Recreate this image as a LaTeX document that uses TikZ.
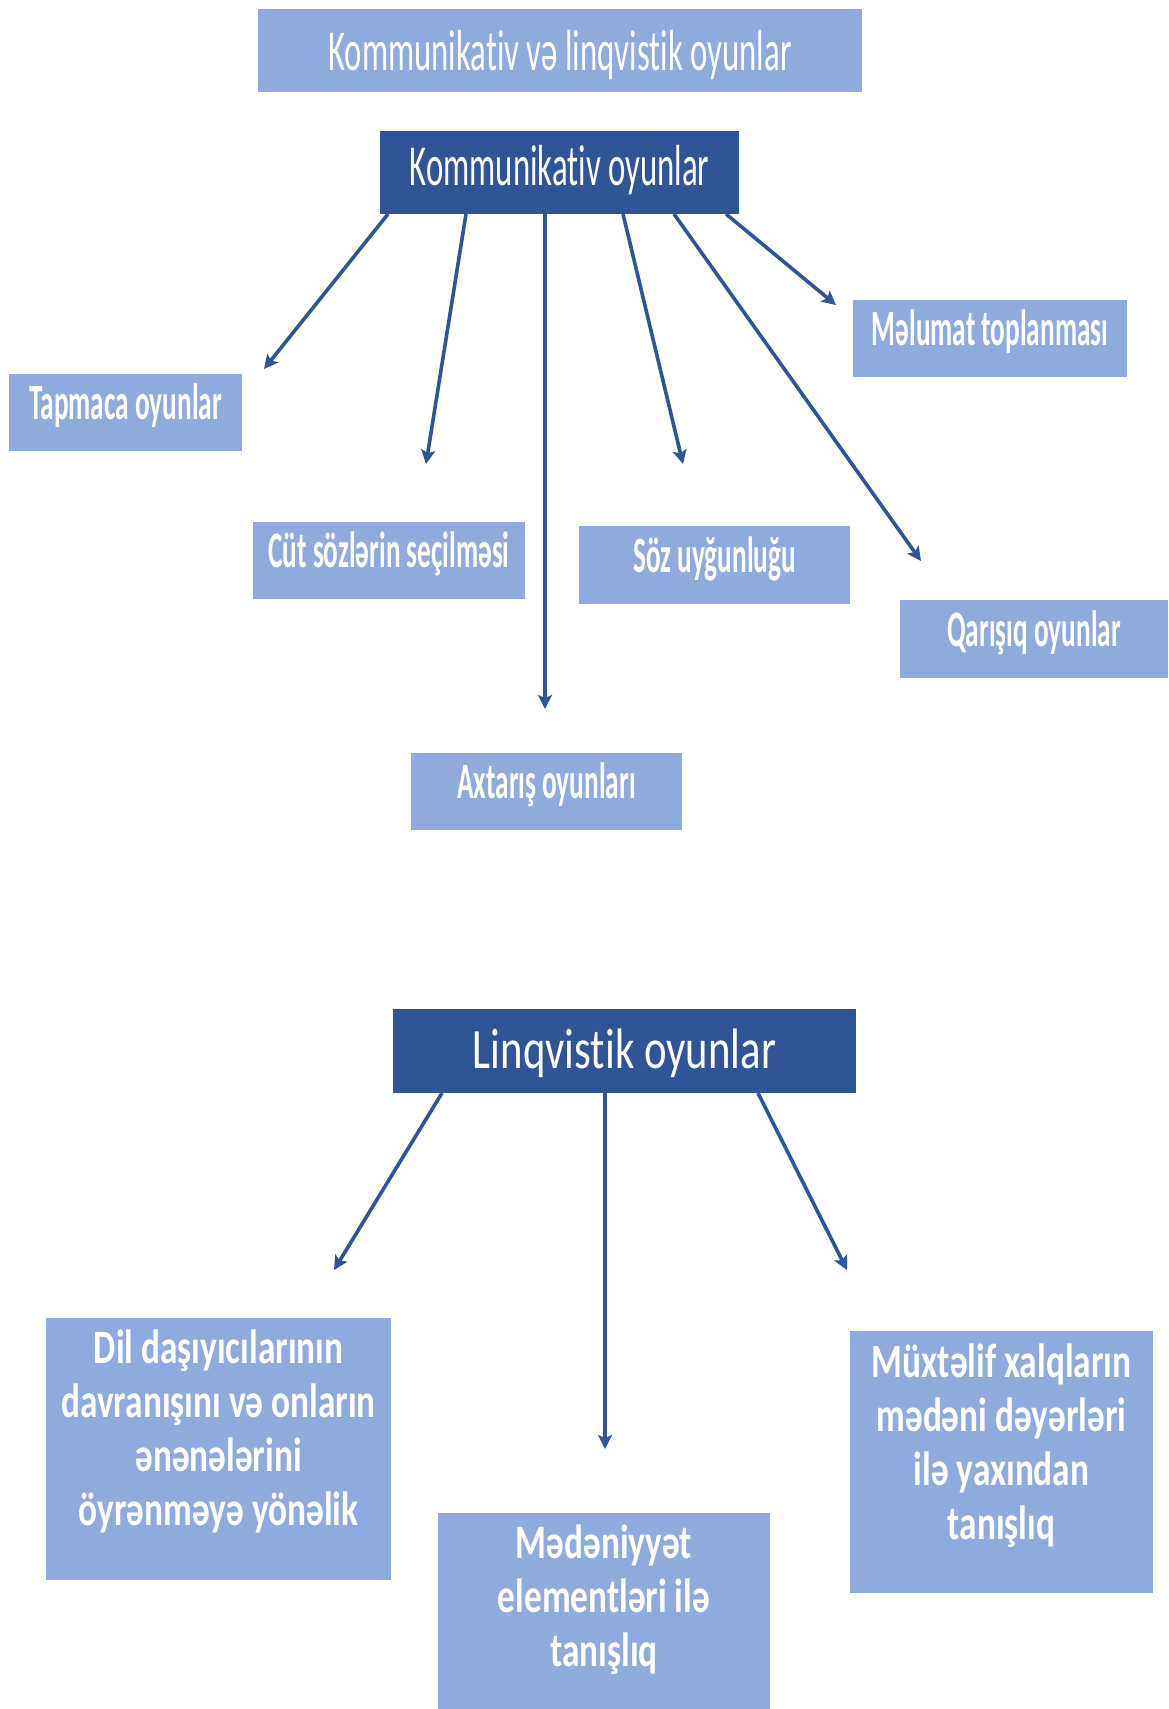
\documentclass[tikz,border=0pt]{standalone}
\usepackage{fontspec}
\setmainfont{Carlito}
\newfontfamily\fta[FakeStretch=0.565,Ligatures=NoCommon]{Carlito}
\newfontfamily\ftb[FakeStretch=0.535,Ligatures=NoCommon]{Carlito}
\newfontfamily\ftc[FakeStretch=0.75,Ligatures=NoCommon]{Carlito}
\newfontfamily\ftd[FakeStretch=0.735,Ligatures=NoCommon]{Carlito}
\usetikzlibrary{arrows.meta}
\definecolor{dblue}{HTML}{2F5597}
\definecolor{lblue}{HTML}{8FAADC}
\begin{document}
\begin{tikzpicture}[x=1pt,y=-1pt,
  lbox/.style={fill=lblue, inner sep=0pt, outer sep=0pt, text=white},
  dbox/.style={fill=dblue, inner sep=0pt, outer sep=0pt, text=white},
  hfont/.style={font={\fta\fontsize{58}{66}\selectfont}, text depth=0pt},
  sfont/.style={font={\ftb\bfseries\fontsize{51}{58}\selectfont}, text height=14pt, text depth=0pt},
  lfont/.style={font={\ftc\fontsize{57}{66}\selectfont}, text height=34pt, text depth=0pt},
  bfont/.style={font={\ftd\bfseries\fontsize{48}{54}\selectfont}},
  btxt/.style={inner sep=0pt, text=white, align=center, anchor=north, bfont},
  conn/.style={draw=dblue, line width=3.6pt, -{Stealth[length=14pt,width=14pt,inset=3pt]}}]
\useasboundingbox (0,0) rectangle (1168,1709);
\clip (0,0) rectangle (1168,1709);
\fill[white] (0,0) rectangle (1168,1709);

% top part
\node[lbox, hfont, text height=39pt, minimum width=604pt, minimum height=83pt] (title) at (560,50.5) {Kommunikativ və linqvistik oyunlar};
\node[dbox, hfont, text height=25pt, minimum width=359pt, minimum height=83pt] (kom) at (559.5,172.5) {Kommunikativ oyunlar};
\node[lbox, sfont, minimum width=233pt, minimum height=77pt] (tap) at (125.5,412.5) {Tapmaca oyunlar};
\node[lbox, sfont, minimum width=272pt, minimum height=77pt] (cut) at (389,560.5) {Cüt sözlərin seçilməsi};
\node[lbox, sfont, minimum width=271pt, minimum height=78pt] (soz) at (714.5,565) {Söz uyğunluğu};
\node[lbox, sfont, minimum width=274pt, minimum height=77pt] (mel) at (990,338.5) {Məlumat toplanması};
\node[lbox, sfont, minimum width=268pt, minimum height=78pt] (qar) at (1034,639) {Qarışıq oyunlar};
\node[lbox, sfont, minimum width=271pt, minimum height=77pt] (axt) at (546.5,791.5) {Axtarış oyunları};

\coordinate (k1s) at ([xshift=8pt]kom.south west);
\coordinate (k2s) at ([xshift=86pt]kom.south west);
\coordinate (k3s) at ([xshift=165pt]kom.south west);
\coordinate (k4s) at ([xshift=243pt]kom.south west);
\coordinate (k5s) at ([xshift=294pt]kom.south west);
\coordinate (k6s) at ([xshift=346pt]kom.south west);
\coordinate (k1e) at (264,369);
\coordinate (k2e) at (426,464);
\coordinate (k3e) at (545,709);
\coordinate (k4e) at (683,464);
\coordinate (k5e) at (921,561);
\coordinate (k6e) at (836,305);
\draw[conn] (k1s) -- (k1e);
\draw[conn] (k2s) -- (k2e);
\draw[conn] (k3s) -- (k3e);
\draw[conn] (k4s) -- (k4e);
\draw[conn] (k5s) -- (k5e);
\draw[conn] (k6s) -- (k6e);

% bottom part
\node[dbox, lfont, minimum width=463pt, minimum height=84pt] (lin) at (624.5,1051) {Linqvistik oyunlar};
\node[lbox, minimum width=345pt, minimum height=262pt] (dil) at (218.5,1449) {};
\node[lbox, minimum width=332pt, minimum height=260pt] (med) at (604,1643) {};
\node[lbox, minimum width=303pt, minimum height=262pt] (mux) at (1001.5,1462) {};
\node[btxt] (dilT) at (218.5,1330) {Dil daşıyıcılarının\\davranışını və onların\\ənənələrini\\öyrənməyə yönəlik};
\node[btxt] (medT) at (604,1525) {Mədəniyyət\\elementləri ilə\\tanışlıq};
\node[btxt] (muxT) at (1001.5,1344) {Müxtəlif xalqların\\mədəni dəyərləri\\ilə yaxından\\tanışlıq};

\coordinate (l1s) at ([xshift=49pt]lin.south west);
\coordinate (l2s) at ([xshift=212pt]lin.south west);
\coordinate (l3s) at ([xshift=365pt]lin.south west);
\coordinate (l1e) at (334,1270);
\coordinate (l2e) at (605,1449);
\coordinate (l3e) at (847,1270);
\draw[conn] (l1s) -- (l1e);
\draw[conn] (l2s) -- (l2e);
\draw[conn] (l3s) -- (l3e);
\end{tikzpicture}
\end{document}
